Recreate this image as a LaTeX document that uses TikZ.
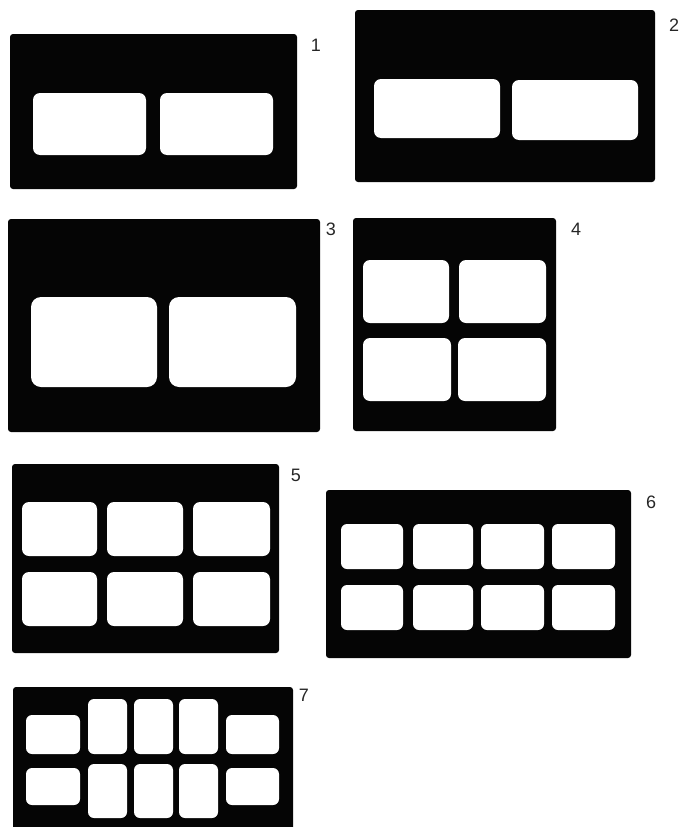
\documentclass[tikz,border=0pt]{standalone}
\usepackage{fontspec}
\setmainfont{Liberation Sans}
\definecolor{inkblack}{rgb}{0.02,0.02,0.02}
\definecolor{labelgray}{rgb}{0.15,0.15,0.15}

\begin{document}
\begin{tikzpicture}[
  x=1pt, y=-1pt,
  every node/.style={font=\fontsize{18}{18}\selectfont, text=labelgray, inner sep=0pt},
  panel/.style={fill=inkblack, rounded corners=3pt},
  pane/.style={fill=white, rounded corners=7pt},
  bigpane/.style={fill=white, rounded corners=10pt},
  smallpane/.style={fill=white, rounded corners=6pt},
]
\useasboundingbox (0,0) rectangle (680,827);

% ---- panel 1: two panes ----
\fill[panel] (10,34) rectangle (297,189);
\fill[pane] (33,93) rectangle (146,155);
\fill[pane] (160,93) rectangle (273,155);
\node (lab1) at (316,45) {1};

% ---- panel 2: two wide panes ----
\fill[panel] (355,10) rectangle (655,182);
\fill[pane] (374,79) rectangle (500,138);
\fill[pane] (512,80) rectangle (638,140);
\node (lab2) at (674,25) {2};

% ---- panel 3: two large panes ----
\fill[panel] (8,219) rectangle (320,432);
\fill[bigpane] (31,297) rectangle (157,387);
\fill[bigpane] (169,297) rectangle (296,387);
\node (lab3) at (331,229) {3};

% ---- panel 4: 2 x 2 panes ----
\fill[panel] (353,218) rectangle (556,431);
\fill[pane] (363,260) rectangle (449,323);
\fill[pane] (459,260) rectangle (546,323);
\fill[pane] (363,338) rectangle (451,401);
\fill[pane] (458,338) rectangle (546,401);
\node (lab4) at (576,229) {4};

% ---- panel 5: 2 x 3 panes ----
\fill[panel] (12,464) rectangle (279,653);
\fill[pane] (22,502) rectangle (97,556);
\fill[pane] (107,502) rectangle (183,556);
\fill[pane] (193,502) rectangle (270,556);
\fill[pane] (22,572) rectangle (97,626);
\fill[pane] (107,572) rectangle (183,626);
\fill[pane] (193,572) rectangle (270,626);
\node (lab5) at (296,475) {5};

% ---- panel 6: 2 x 4 panes ----
\fill[panel] (326,490) rectangle (631,658);
\fill[smallpane] (341,524) rectangle (403,569);
\fill[smallpane] (413,524) rectangle (473,569);
\fill[smallpane] (481,524) rectangle (544,569);
\fill[smallpane] (552,524) rectangle (615,569);
\fill[smallpane] (341,585) rectangle (403,630);
\fill[smallpane] (413,585) rectangle (473,630);
\fill[smallpane] (481,585) rectangle (544,630);
\fill[smallpane] (552,585) rectangle (615,630);
\node (lab6) at (651,502) {6};

% ---- panel 7: wide outer panes, tall inner panes ----
\fill[panel] (13,687) rectangle (293,830);
\fill[smallpane] (26,715) rectangle (80,754);
\fill[smallpane] (226,715) rectangle (279,754);
\fill[smallpane] (26,768) rectangle (80,805);
\fill[smallpane] (226,768) rectangle (279,805);
\fill[smallpane] (88,699) rectangle (127,754);
\fill[smallpane] (134,699) rectangle (173,754);
\fill[smallpane] (179,699) rectangle (218,754);
\fill[smallpane] (88,764) rectangle (127,818);
\fill[smallpane] (134,764) rectangle (173,818);
\fill[smallpane] (179,764) rectangle (218,818);
\node (lab7) at (304,695) {7};

\end{tikzpicture}
\end{document}
